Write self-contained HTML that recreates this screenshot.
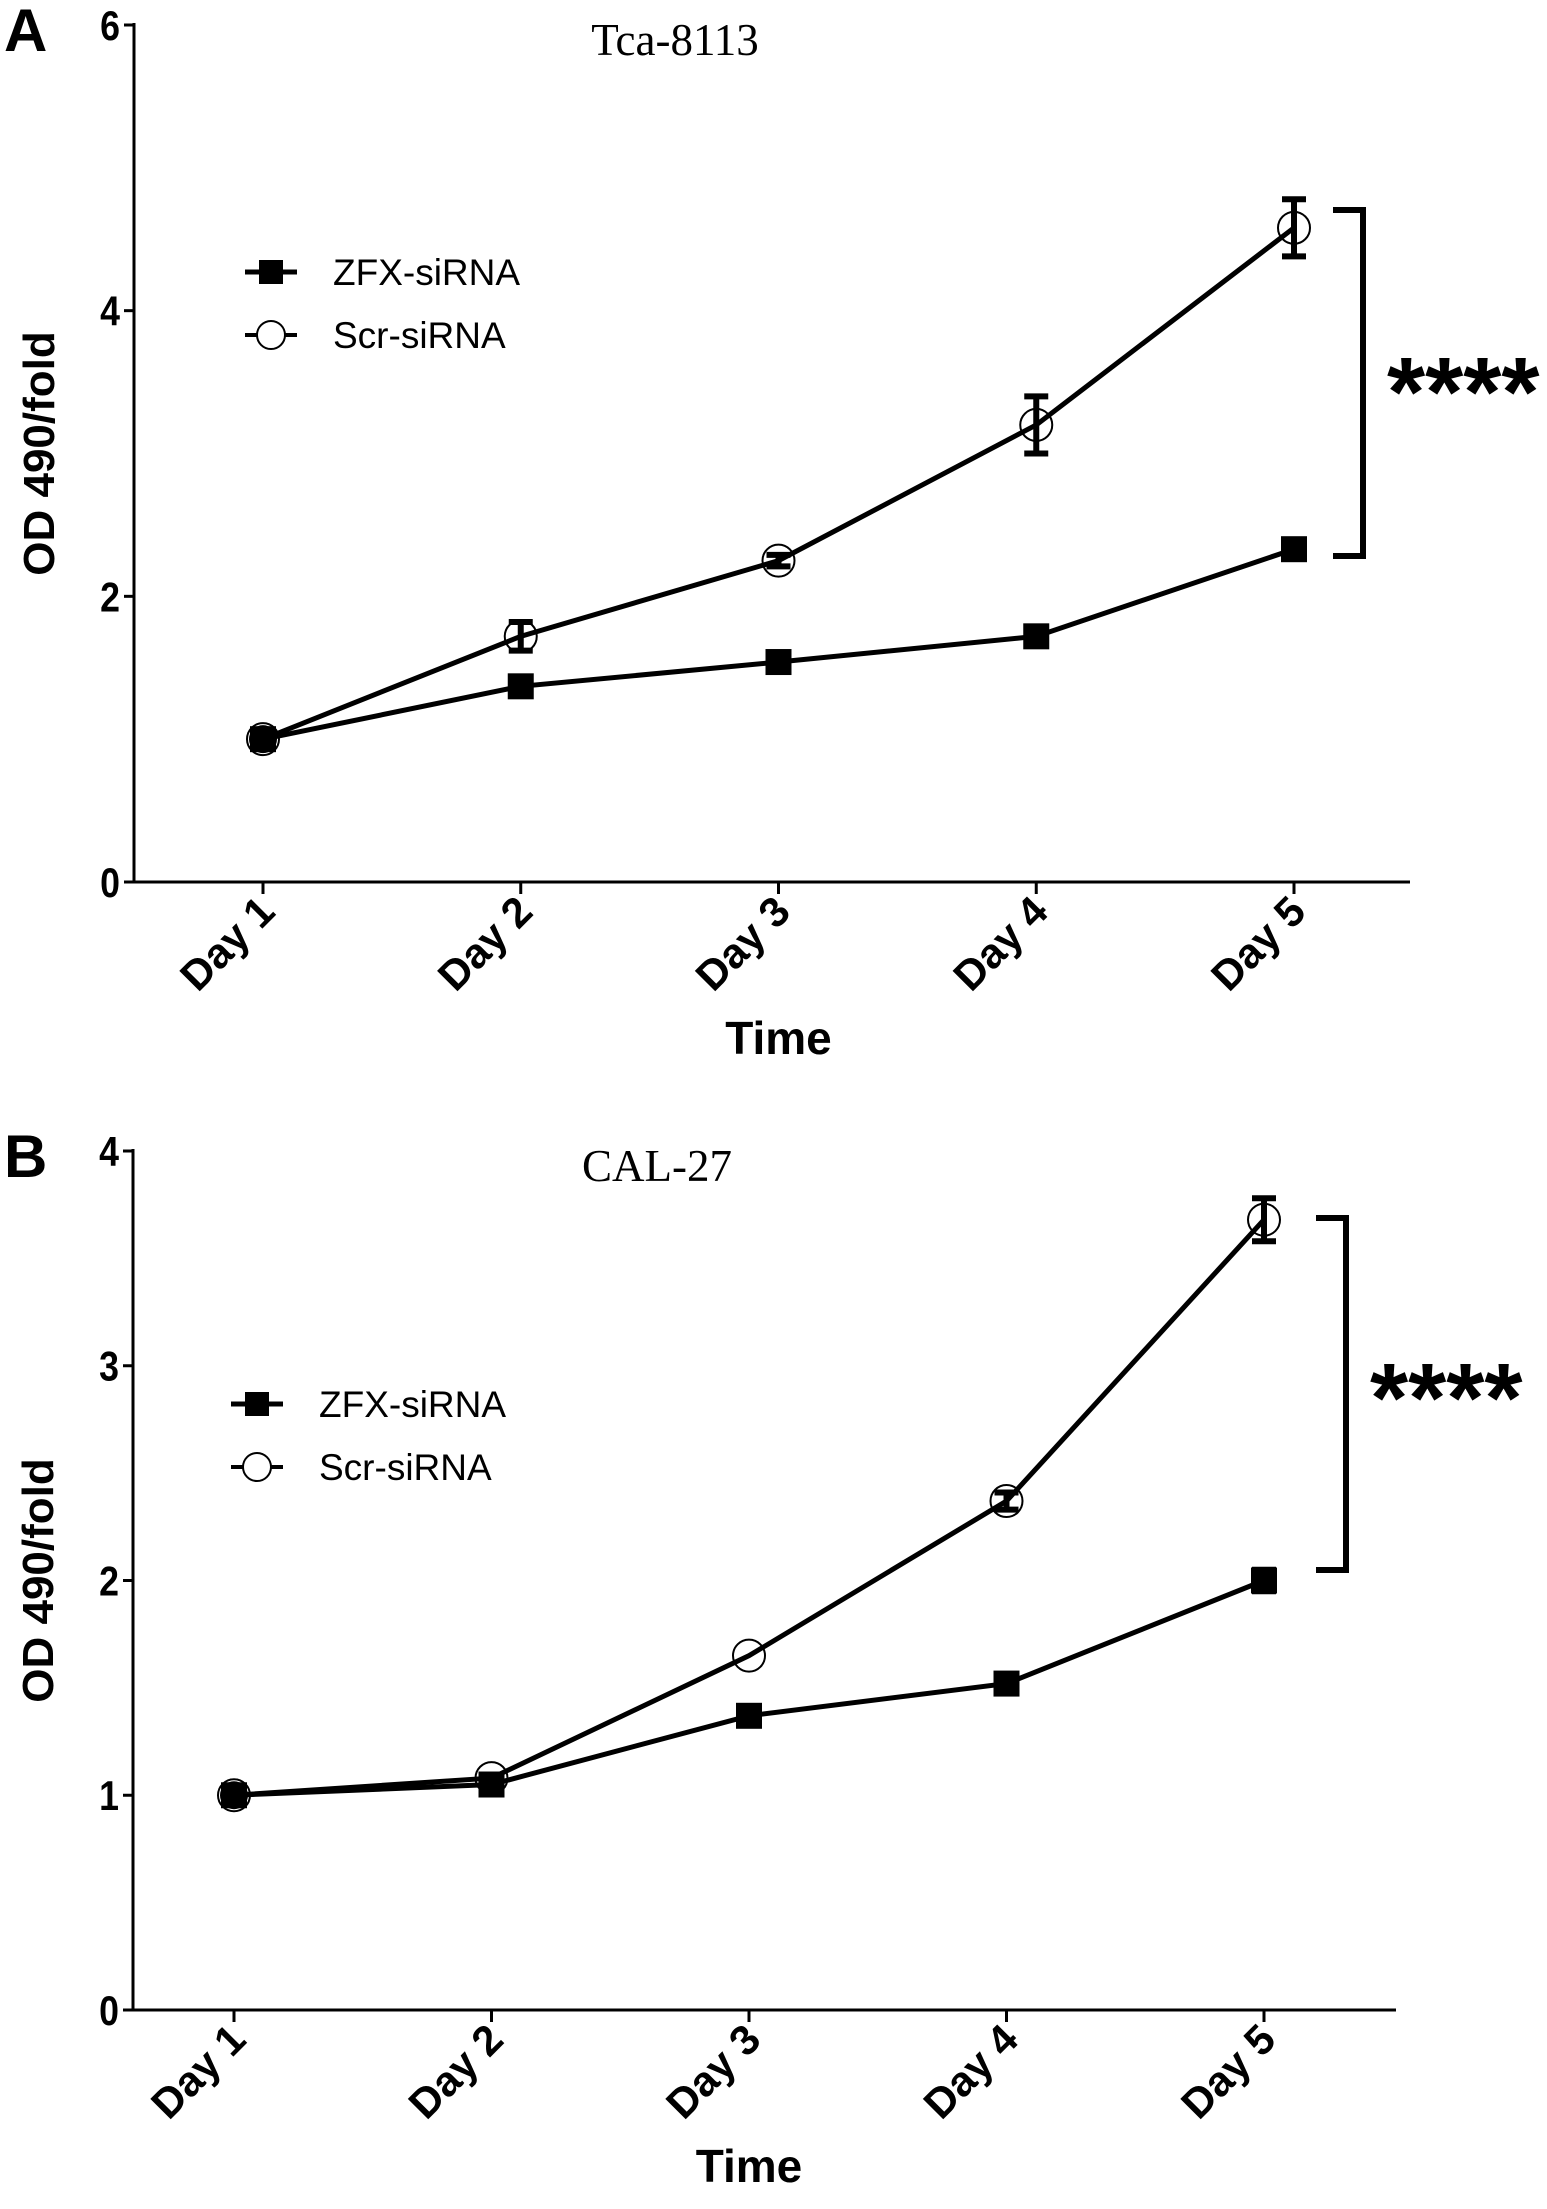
<!DOCTYPE html>
<html><head><meta charset="utf-8"><style>
body{margin:0;background:#fff;}
svg{display:block;font-family:"Liberation Sans",sans-serif;}
</style></head><body>
<svg id="chart" width="1547" height="2209" viewBox="0 0 1547 2209"></svg>
<script>
const days = ["Day 1","Day 2","Day 3","Day 4","Day 5"];
const zfxA = [1, 1.37, 1.54, 1.72, 2.33];
const zfxAErr = [0.02, 0.05, 0.03, 0.03, 0.04];
const scrA = [1, 1.72, 2.25, 3.2, 4.58];
const scrAErr = [0.02, 0.1, 0.04, 0.2, 0.2];
const ticksA = [0, 2, 4, 6];
const zfxB = [1, 1.05, 1.37, 1.52, 2.0];
const zfxBErr = [0.02, 0.02, 0.02, 0.02, 0.05];
const scrB = [1, 1.08, 1.65, 2.37, 3.68];
const scrBErr = [0.02, 0.02, 0.03, 0.04, 0.1];
const ticksB = [0, 1, 2, 3, 4];

const NS = "http://www.w3.org/2000/svg";
const svg = document.getElementById("chart");
function mk(tag, attrs, parent, text){
  const e = document.createElementNS(NS, tag);
  for (const k in attrs) e.setAttribute(k, attrs[k]);
  if (text !== undefined) e.textContent = text;
  (parent || svg).appendChild(e);
  return e;
}

function panel(o){
  const g = mk("g", {});
  
  
  const ymax = o.ticks[o.ticks.length-1];
  const y = v => o.y0 - v/ymax*(o.y0-o.yTop);
  const x = i => o.x1 + i*(o.x5-o.x1)/(days.length-1);
  const ya = mk("line", {x1:o.ax, y1:o.yTop-2, x2:o.ax, y2:o.y0, stroke:"#000","stroke-width":3}, g);
  
  
  const xa = mk("line", {x1:o.ax, y1:o.y0, x2:o.axEnd, y2:o.y0, stroke:"#000","stroke-width":3}, g);
  
  
  o.ticks.forEach(t=>{
    mk("line",{x1:o.ax-10,y1:y(t),x2:o.ax,y2:y(t),stroke:"#000","stroke-width":3},g);
    const tl = mk("text",{x:o.ax-14,y:y(t)+15,"font-size":42,"font-weight":"bold","text-anchor":"end",transform:`translate(${(o.ax-14)*0.15},0) scale(0.85,1)`},g,String(t));
    
    
  });
  days.forEach((d,i)=>{
    mk("line",{x1:x(i),y1:o.y0,x2:x(i),y2:o.y0+12,stroke:"#000","stroke-width":3},g);
    const tl = mk("text",{x:0,y:0,"font-size":42,"font-weight":"bold","text-anchor":"end",
      transform:`translate(${x(i)+14},${o.y0+32}) rotate(-45)`},g,d);
    
    
  });
  const xt = mk("text",{x:(o.x1+o.x5)/2,y:o.y0+172,"font-size":46,"font-weight":"bold","text-anchor":"middle"},g,"Time");
  
  
  const yt = mk("text",{x:0,y:0,"font-size":44,"font-weight":"bold","text-anchor":"middle",
    transform:`translate(${o.ax-80},${(o.y0+o.yTop)/2}) rotate(-90)`},g,"OD 490/fold");
  
  
  const tt = mk("text",{x:o.titleX,y:o.yTop+30,"font-size":45,"font-family":"Liberation Serif, serif","text-anchor":"middle"},g,o.title);
  
  
  const pl = mk("text",{x:4,y:o.yTop+26,"font-size":60,"font-weight":"bold"},g,o.label);
  
  

  function series(vals, errs, kind){
    const pts = vals.map((v,i)=>`${x(i)},${y(v)}`).join(" ");
    const ln = mk("polyline",{points:pts,fill:"none",stroke:"#000","stroke-width":5},g);
    
    
    vals.forEach((v,i)=>{
      if (errs[i] > 0.03){
        const eb = mk("path",{d:`M${x(i)-12},${y(v+errs[i])}H${x(i)+12}M${x(i)},${y(v+errs[i])}V${y(v-errs[i])}M${x(i)-12},${y(v-errs[i])}H${x(i)+12}`,stroke:"#000","stroke-width":6,fill:"none"},g);
        
        
      }
      let m;
      if (kind==="zfx") m = mk("rect",{x:x(i)-13,y:y(v)-13,width:26,height:26,fill:"#000"},g);
      else m = mk("circle",{cx:x(i),cy:y(v),r:16,fill:"none",stroke:"#000","stroke-width":2},g);
      
      
    });
  }
  series(o.zfx, o.zfxErr, "zfx");
  series(o.scr, o.scrErr, "scr");
  mk("circle",{cx:x(0),cy:y(o.zfx[0]),r:14,fill:"#000"},g);

  const lg = mk("g",{},g);
  
  
  const e1 = mk("g",{},lg);
  
  
  mk("line",{x1:o.legX-26,y1:o.legY1,x2:o.legX+26,y2:o.legY1,stroke:"#000","stroke-width":5},e1);
  mk("rect",{x:o.legX-12,y:o.legY1-12,width:24,height:24,fill:"#000"},e1);
  mk("text",{x:o.legX+62,y:o.legY1+13,"font-size":37},e1,"ZFX-siRNA");
  const e2 = mk("g",{},lg);
  
  
  mk("line",{x1:o.legX-26,y1:o.legY2,x2:o.legX+26,y2:o.legY2,stroke:"#000","stroke-width":4},e2);
  mk("circle",{cx:o.legX,cy:o.legY2,r:14,fill:"#fff",stroke:"#000","stroke-width":2},e2);
  mk("text",{x:o.legX+62,y:o.legY2+13,"font-size":37},e2,"Scr-siRNA");

  const b = mk("path",{d:`M${o.bx},${o.bTop}H${o.bx+30}V${o.bBot}H${o.bx}`,stroke:"#000","stroke-width":6,fill:"none"},g);
  
  
  const s = mk("text",{x:o.bx+54,y:(o.bTop+o.bBot)/2+o.starOff,"font-size":98,"font-weight":"bold"},g,"****");
  
  
}

panel({name:"panel-a-tca8113",label:"A",title:"Tca-8113",titleX:675,ax:134,axEnd:1410,yTop:25,y0:882,x1:263,x5:1294,
  ticks:ticksA,zfx:zfxA,zfxErr:zfxAErr,scr:scrA,scrErr:scrAErr,legX:271,legY1:272,legY2:335,
  bx:1333,bTop:210,bBot:556,starOff:43});
panel({name:"panel-b-cal27",label:"B",title:"CAL-27",titleX:657,ax:133,axEnd:1396,yTop:1151,y0:2010,x1:234,x5:1264,
  ticks:ticksB,zfx:zfxB,zfxErr:zfxBErr,scr:scrB,scrErr:scrBErr,legX:257,legY1:1404,legY2:1467,
  bx:1316,bTop:1218,bBot:1570,starOff:38});
</script>
</body></html>
